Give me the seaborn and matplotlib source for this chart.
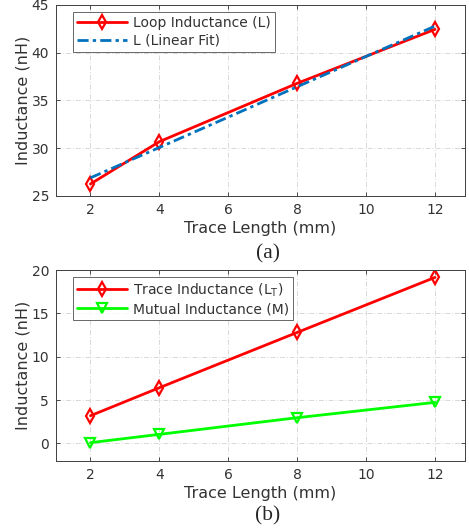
import matplotlib
matplotlib.use("Agg")
import matplotlib.pyplot as plt
import seaborn as sns
import pandas as pd

trace_len = [2, 4, 8, 12]
loop_L = [26.26, 30.69, 36.8, 42.45]
loop_fit = [26.9, 30.08, 36.44, 42.79]
trace_LT = [3.19, 6.42, 12.8, 19.15]
mutual_M = [0.08, 1.04, 2.96, 4.73]
xticks = [2, 4, 6, 8, 10, 12]

sns.set_theme(style="white")
plt.rcParams['font.family'] = ['DejaVu Sans Condensed', 'DejaVu Sans']
plt.rcParams['mathtext.fontset'] = 'dejavusans'

fig = plt.figure(figsize=(4.69, 5.31), dpi=100)
ax1 = fig.add_axes([0.1194, 0.6309, 0.8721, 0.3597])
ax2 = fig.add_axes([0.1194, 0.1324, 0.8721, 0.3591])

dfa = pd.DataFrame({"x": trace_len, "L": loop_L, "fit": loop_fit})
dfb = pd.DataFrame({"x": trace_len, "LT": trace_LT, "M": mutual_M})

txt = "#333333"

sns.lineplot(data=dfa, x="x", y="L", ax=ax1, color="#FF0000", lw=2.0,
             marker="d", markersize=7.5, markerfacecolor="none",
             markeredgecolor="#FF0000", markeredgewidth=1.6,
             label="Loop Inductance (L)")
sns.lineplot(data=dfa, x="x", y="fit", ax=ax1, color="#0072BD", lw=2.0,
             linestyle=(0, (4, 1.5, 1.2, 1.5)), label="L (Linear Fit)")

sns.lineplot(data=dfb, x="x", y="LT", ax=ax2, color="#FF0000", lw=2.0,
             marker="d", markersize=7.5, markerfacecolor="none",
             markeredgecolor="#FF0000", markeredgewidth=1.6,
             label="Trace Inductance (L$_\\mathrm{T}$)")
sns.lineplot(data=dfb, x="x", y="M", ax=ax2, color="#00FF00", lw=2.0,
             marker="v", markersize=7.5, markerfacecolor="none",
             markeredgecolor="#00FF00", markeredgewidth=1.6,
             label="Mutual Inductance (M)")

for ax, ylim, yt in [(ax1, (25, 45), [25, 30, 35, 40, 45]),
                     (ax2, (-2, 20), [0, 5, 10, 15, 20])]:
    ax.set_xlim(1, 12.87)
    ax.set_ylim(*ylim)
    ax.set_xticks(xticks)
    ax.set_yticks(yt)
    ax.grid(True, linestyle=(0, (5, 2, 1, 2)), color="#d8d8d8", lw=0.7)
    ax.tick_params(direction="in", length=3, width=0.6, colors=txt,
                   labelsize=10, top=True, right=True, bottom=True, left=True,
                   pad=5)
    for s in ax.spines.values():
        s.set_color("#404040")
        s.set_linewidth(0.7)
    ax.set_xlabel("Trace Length (mm)", fontsize=11.5, color=txt, labelpad=3)
    ax.set_ylabel("Inductance (nH)", fontsize=11.5, color=txt, labelpad=1)
    leg = ax.legend(loc="upper left", bbox_to_anchor=(0.042, 0.963), fontsize=10,
                    borderaxespad=0, frameon=True, fancybox=False,
                    edgecolor="#404040", handlelength=3.6, borderpad=0.3,
                    labelspacing=0.25, handletextpad=0.4)
    leg.get_frame().set_linewidth(0.7)
    for t in leg.get_texts():
        t.set_color(txt)

fig.text(0.571, 1 - 254 / 531, "(a)", ha="center", va="center",
         fontsize=15.5, family="Liberation Serif")
fig.text(0.571, 1 - 516 / 531, "(b)", ha="center", va="center",
         fontsize=15.5, family="Liberation Serif")

fig.savefig("out.png", dpi=100)
